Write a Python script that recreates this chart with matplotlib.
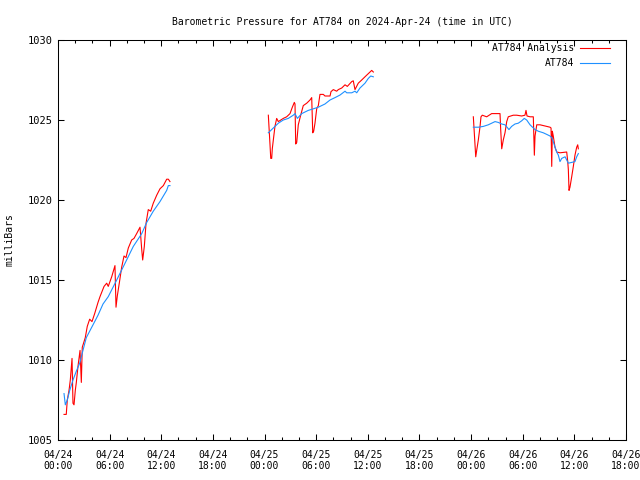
import numpy as np
import matplotlib
matplotlib.use("Agg")
import matplotlib.pyplot as plt
from matplotlib.ticker import MultipleLocator, FuncFormatter

# hours since 2024-04-24 00:00 UTC, pressure in mb
# analysis (red), three segments
an_h1 = [0.70, 0.96, 1.08, 1.28, 1.43, 1.63, 1.74, 1.86, 2.01, 2.13, 2.32, 2.56, 2.71, 2.82,
         2.94, 3.17, 3.40, 3.68, 3.95, 4.26, 4.65, 4.88, 5.35, 5.66, 5.84, 6.24, 6.62, 6.74,
         6.89, 7.12, 7.40, 7.67, 7.90, 8.17, 8.56, 8.83, 9.14, 9.53, 9.73, 9.84, 10.03, 10.23,
         10.49, 10.77, 11.07, 11.47, 11.85, 12.24, 12.63, 12.82, 13.01]
an_p1 = [1006.6, 1006.6, 1007.5, 1008.1, 1008.75, 1010.1, 1007.3, 1007.2, 1008.1, 1008.6,
         1009.6, 1010.6, 1008.6, 1010.8, 1011.0, 1011.4, 1012.1, 1012.55, 1012.4, 1012.9,
         1013.6, 1013.96, 1014.6, 1014.8, 1014.6, 1015.2, 1015.9, 1013.3, 1014.0, 1014.8,
         1015.8, 1016.5, 1016.4, 1017.0, 1017.5, 1017.6, 1017.9, 1018.3, 1016.9, 1016.25,
         1017.1, 1018.55, 1019.4, 1019.3, 1019.8, 1020.3, 1020.7, 1020.9, 1021.3, 1021.3,
         1021.15]

an_h2 = [24.44, 24.63, 24.72, 24.83, 24.90, 25.02, 25.21, 25.41, 25.60, 26.18, 26.57, 26.96,
         27.23, 27.46, 27.54, 27.62, 27.74, 27.92, 28.20, 28.50, 28.90, 29.28, 29.48, 29.60,
         29.71, 29.86, 30.06, 30.25, 30.44, 30.83, 31.02, 31.61, 31.72, 31.99, 32.38, 32.57,
         32.97, 33.35, 33.62, 34.13, 34.31, 34.51, 34.89, 35.29, 35.67, 36.06, 36.45, 36.64]
an_p2 = [1025.3, 1023.5, 1022.6, 1022.6, 1023.2, 1023.75, 1024.6, 1025.1, 1024.9, 1025.1,
         1025.2, 1025.4, 1025.8, 1026.1, 1026.0, 1023.5, 1023.6, 1024.7, 1025.3, 1025.9,
         1026.05, 1026.25, 1026.4, 1024.2, 1024.3, 1024.8, 1025.7, 1025.9, 1026.6, 1026.6,
         1026.5, 1026.5, 1026.77, 1026.9, 1026.8, 1026.9, 1027.0, 1027.2, 1027.1, 1027.4,
         1027.45, 1026.9, 1027.3, 1027.5, 1027.7, 1027.9, 1028.1, 1028.0]

an_h3 = [48.26, 48.45, 48.54, 48.65, 48.84, 49.04, 49.15, 49.30, 49.81, 50.39, 51.36, 51.44,
         51.56, 51.74, 51.94, 52.14, 52.32, 52.90, 53.30, 53.88, 54.26, 54.38, 54.50, 54.85,
         55.23, 55.35, 55.43, 55.63, 56.01, 56.79, 57.17, 57.29, 57.37, 57.44, 57.55, 57.75,
         57.95, 58.33, 59.11, 59.23, 59.30, 59.38, 59.49, 59.69, 59.88, 60.07, 60.27, 60.39,
         60.46]
an_p3 = [1025.2, 1023.5, 1022.7, 1023.1, 1023.75, 1024.6, 1025.2, 1025.3, 1025.2, 1025.4,
         1025.4, 1024.4, 1023.2, 1023.75, 1024.2, 1024.9, 1025.2, 1025.3, 1025.3, 1025.25,
         1025.3, 1025.6, 1025.25, 1025.2, 1025.2, 1022.8, 1024.0, 1024.7, 1024.7, 1024.6,
         1024.55, 1024.5, 1022.1, 1024.3, 1024.0, 1023.3, 1023.0, 1022.95, 1023.0, 1022.4,
         1021.9, 1020.6, 1020.8, 1021.45, 1022.1, 1022.8, 1023.3, 1023.45, 1023.2]

# station observations (blue)
ob_h1 = [0.70, 0.85, 1.08, 1.36, 1.74, 2.13, 2.52, 2.90, 3.29, 3.68, 4.07, 4.65, 5.23, 5.84,
         6.82, 7.79, 8.75, 9.73, 10.31, 11.07, 11.85, 12.63, 12.82, 13.01]
ob_p1 = [1007.9, 1007.2, 1007.5, 1008.1, 1008.75, 1009.3, 1009.8, 1010.6, 1011.4, 1011.8,
         1012.2, 1012.8, 1013.5, 1013.96, 1015.0, 1016.05, 1017.1, 1017.9, 1018.6, 1019.3,
         1019.9, 1020.6, 1020.9, 1020.9]

ob_h2 = [24.44, 25.02, 25.60, 26.18, 26.76, 27.34, 27.54, 27.81, 28.32, 29.08, 29.67, 30.25,
         31.02, 31.61, 32.19, 32.77, 33.35, 33.55, 34.13, 34.51, 34.71, 35.09, 35.67, 36.06,
         36.34, 36.64]
ob_p2 = [1024.2, 1024.5, 1024.8, 1025.0, 1025.1, 1025.3, 1025.4, 1025.1, 1025.4, 1025.6,
         1025.7, 1025.8, 1026.0, 1026.25, 1026.4, 1026.56, 1026.8, 1026.7, 1026.7, 1026.8,
         1026.7, 1027.0, 1027.3, 1027.6, 1027.75, 1027.7]

ob_h3 = [48.26, 48.84, 49.42, 50.00, 50.39, 50.78, 51.16, 51.56, 51.94, 52.25, 52.40, 52.71,
         53.10, 53.48, 53.88, 54.18, 54.46, 54.85, 55.43, 55.81, 56.39, 56.79, 57.17, 57.37,
         57.55, 57.75, 57.95, 58.14, 58.33, 58.53, 58.92, 59.30, 59.69, 60.07, 60.27, 60.46]
ob_p3 = [1024.55, 1024.55, 1024.6, 1024.7, 1024.8, 1024.9, 1024.85, 1024.75, 1024.7, 1024.5,
         1024.4, 1024.6, 1024.75, 1024.8, 1024.95, 1025.1, 1025.0, 1024.7, 1024.4, 1024.3,
         1024.2, 1024.1, 1024.0, 1023.9, 1023.65, 1023.3, 1023.0, 1022.8, 1022.4, 1022.6,
         1022.7, 1022.3, 1022.35, 1022.4, 1022.7, 1022.9]

plt.rcParams["font.family"] = "DejaVu Sans Mono"
plt.rcParams["font.size"] = 7

fig = plt.figure(figsize=(6.4, 4.8), dpi=100)
ax = fig.add_axes([58 / 640, 40 / 480, 568 / 640, 400 / 480])

red = "#ff0000"
blue = "#1e90ff"
lw = 0.8
for i, (h, p) in enumerate([(an_h1, an_p1), (an_h2, an_p2), (an_h3, an_p3)]):
    ax.plot(h, p, color=red, lw=lw, label="AT784 Analysis" if i == 0 else None)
for i, (h, p) in enumerate([(ob_h1, ob_p1), (ob_h2, ob_p2), (ob_h3, ob_p3)]):
    ax.plot(h, p, color=blue, lw=lw, label="AT784" if i == 0 else None)

ax.set_xlim(0, 66)
ax.set_ylim(1005, 1030)
ax.xaxis.set_major_locator(MultipleLocator(6))
ax.xaxis.set_minor_locator(MultipleLocator(2))
ax.yaxis.set_major_locator(MultipleLocator(5))


def fmt(h, pos):
    day = 24 + int(h // 24)
    hh = int(h % 24)
    return "04/%02d\n%02d:00" % (day, hh)


ax.xaxis.set_major_formatter(FuncFormatter(fmt))
ax.yaxis.set_major_formatter(FuncFormatter(lambda v, p: "%d" % v))
ax.tick_params(which="both", direction="in", top=True, right=True, width=0.75)
ax.tick_params(which="major", length=4.5)
ax.tick_params(which="minor", length=2.5)
ax.tick_params(axis="x", labelsize=7, pad=7)
ax.tick_params(axis="y", labelsize=7.5, pad=4)
for s in ax.spines.values():
    s.set_linewidth(0.75)

ax.set_ylabel("milliBars", fontsize=7)
ax.yaxis.set_label_coords((15 - 58) / 568, 0.5)
ax.set_title("Barometric Pressure for AT784 on 2024-Apr-24 (time in UTC)", fontsize=7, pad=11)

ax.legend(loc="upper right", bbox_to_anchor=((610 - 58) / 568, 1 - 3 / 400),
          frameon=False, markerfirst=False, handlelength=3.1, handletextpad=0.6,
          borderpad=0, borderaxespad=0, labelspacing=0.55, fontsize=7)

fig.savefig("out.png", dpi=100)
